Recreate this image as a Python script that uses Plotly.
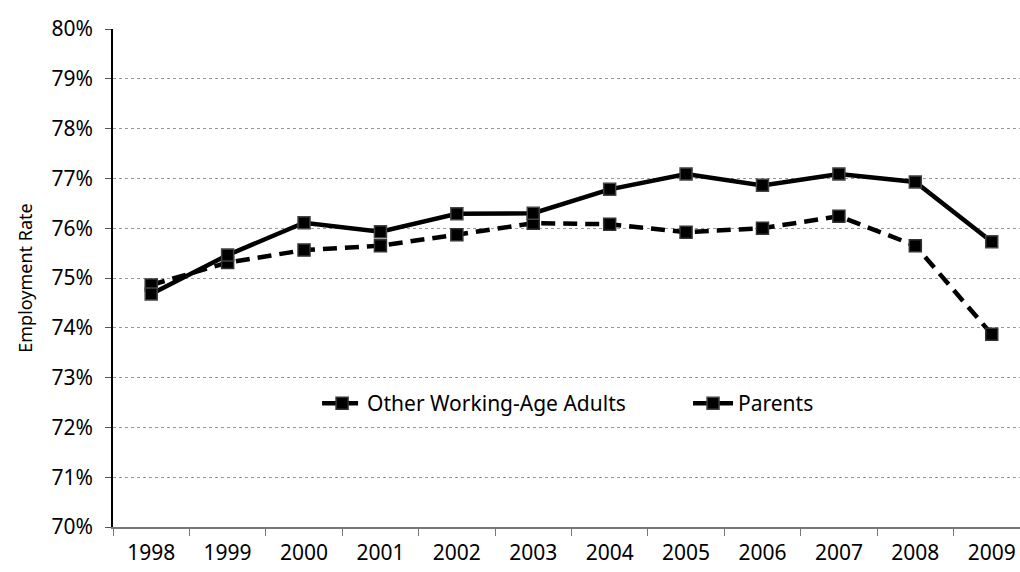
import plotly.graph_objects as go

years = ["1998", "1999", "2000", "2001", "2002", "2003", "2004", "2005", "2006", "2007", "2008", "2009"]
other_adults = [74.86, 75.31, 75.56, 75.65, 75.87, 76.10, 76.08, 75.92, 76.00, 76.24, 75.65, 73.87]
parents = [74.68, 75.46, 76.11, 75.93, 76.29, 76.30, 76.78, 77.09, 76.86, 77.09, 76.93, 75.73]
ytick_vals = [70, 71, 72, 73, 74, 75, 76, 77, 78, 79, 80]
ytick_text = [f"{v}%" for v in ytick_vals]

FONT = "Noto Sans"

fig = go.Figure()
fig.add_trace(go.Scatter(
    x=years, y=other_adults, name="Other Working-Age Adults", mode="lines+markers",
    line=dict(color="black", width=4.5, dash="14px,8px"),
    marker=dict(symbol="square", size=12, color="black", line=dict(color="#333333", width=1.5)),
    legend="legend",
))
fig.add_trace(go.Scatter(
    x=years, y=parents, name="Parents", mode="lines+markers",
    line=dict(color="black", width=4.5),
    marker=dict(symbol="square", size=12, color="black", line=dict(color="#444444", width=1.5)),
    legend="legend2",
))

legend_common = dict(orientation="h", y=0.248, xanchor="left", yanchor="middle",
                     bgcolor="rgba(255,255,255,0)", font=dict(size=21, family=FONT),
                     itemwidth=40)

fig.update_layout(
    width=1020, height=572,
    margin=dict(l=113, r=0, t=29, b=45),
    plot_bgcolor="white", paper_bgcolor="white",
    font=dict(family=FONT, size=21, color="black"),
    showlegend=True,
    legend=dict(x=0.225, **legend_common),
    legend2=dict(x=0.634, **legend_common),
    xaxis=dict(
        type="category", range=[-0.5, 11.37],
        showline=True, linecolor="#777777", linewidth=1.5,
        ticks="outside", tickson="boundaries", ticklen=7, tickcolor="#777777",
        ticklabelstandoff=6,
        showgrid=False, tickfont=dict(size=21, family=FONT), zeroline=False,
    ),
    yaxis=dict(
        range=[70, 80], tickvals=ytick_vals, ticktext=ytick_text,
        showline=True, linecolor="black", linewidth=1.5,
        ticks="outside", ticklen=6, tickcolor="#555555", ticklabelstandoff=8,
        showgrid=True, gridcolor="#999999", gridwidth=1, griddash="dot",
        tickfont=dict(size=21, family=FONT), zeroline=False,
        title=dict(text="Employment Rate", font=dict(size=18, family=FONT), standoff=14),
    ),
)

fig.write_html(
    "out.html",
    config={"displayModeBar": False},
    post_script="document.body.style.margin='0';document.body.style.overflow='hidden';",
)
